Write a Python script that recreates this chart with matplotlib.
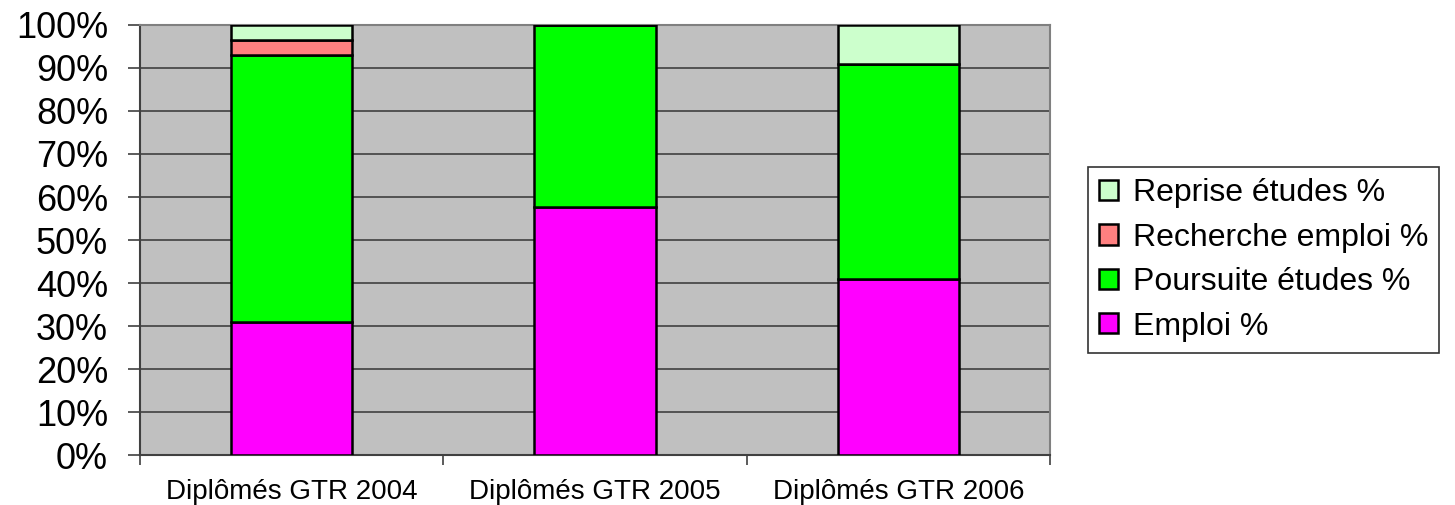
import matplotlib
matplotlib.use("Agg")
import matplotlib.pyplot as plt
import numpy as np

# === Data ===
categories = ["Diplômés GTR 2004", "Diplômés GTR 2005", "Diplômés GTR 2006"]
emploi = [31.03, 57.69, 40.91]
poursuite = [62.07, 42.31, 50.00]
recherche = [3.45, 0.0, 0.0]
reprise = [3.45, 0.0, 9.09]

series = [
    ("Emploi %", emploi, "#FF00FF"),
    ("Poursuite études %", poursuite, "#00FF00"),
    ("Recherche emploi %", recherche, "#FF8080"),
    ("Reprise études %", reprise, "#CCFFCC"),
]

plt.rcParams['font.family'] = ['Liberation Sans', 'DejaVu Sans']

fig = plt.figure(figsize=(14.55, 5.05), dpi=100)
ax = fig.add_axes([0.0962, 0.099, 0.6254, 0.8515])
ax.set_facecolor("#C0C0C0")

x = np.arange(len(categories))
bottom = np.zeros(len(categories))
handles = []
for name, vals, color in series:
    vals = np.array(vals)
    h = ax.bar(x, vals, 0.4, bottom=bottom, color=color, edgecolor="black",
               linewidth=1.8, label=name, zorder=3)
    handles.append(h)
    bottom += vals

ax.set_xlim(-0.5, 2.5)
ax.set_ylim(0, 100)
ax.set_yticks(np.arange(0, 101, 10))
ax.set_yticklabels([f"{v}%" for v in range(0, 101, 10)], fontsize=26)
ax.yaxis.grid(True, color="#404040", linewidth=1.2, zorder=0)
ax.set_axisbelow(True)

ax.set_xticks(x)
ax.set_xticklabels(categories, fontsize=20)
ax.tick_params(axis="x", length=0, pad=17)
ax.set_xticks([-0.5, 0.5, 1.5, 2.5], minor=True)
ax.tick_params(axis="x", which="minor", length=7, color="#404040", width=1.2)
ax.tick_params(axis="y", length=9, color="#404040", width=1.2, pad=14)

for s in ["left", "bottom"]:
    ax.spines[s].set_color("#404040")
    ax.spines[s].set_linewidth(1.5)
for s in ["top", "right"]:
    ax.spines[s].set_color("#808080")
    ax.spines[s].set_linewidth(1.5)

leg = fig.legend(handles[::-1], [s[0] for s in series][::-1],
                 loc="center left", bbox_to_anchor=(1088 / 1455, 1 - 260 / 505),
                 fontsize=23, frameon=True, fancybox=False, edgecolor="black",
                 handlelength=0.6, handleheight=0.6, handletextpad=0.45,
                 labelspacing=0.45, borderpad=0.35, borderaxespad=0)
leg.get_frame().set_linewidth(1.2)

fig.savefig("out.png", dpi=100)
